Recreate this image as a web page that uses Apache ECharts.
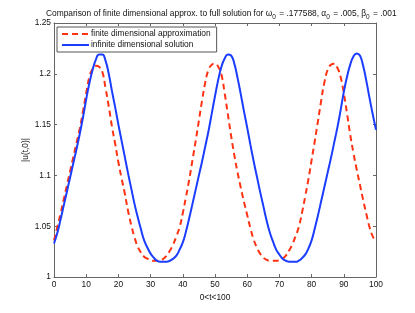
<!DOCTYPE html>
<html>
<head>
<meta charset="utf-8">
<script src="https://cdn.jsdelivr.net/npm/echarts@6/dist/echarts.min.js"></script>
<style>
html,body{margin:0;padding:0;background:#fff;}
#c{width:415px;height:313px;}
</style>
</head>
<body>
<div id="c"></div>
<script>
var tValues = [0,1,2,3,4,5,6,7,8,9,10,11,12,13,14,15,16,17,18,19,20,21,22,23,24,25,26,27,28,29,30,31,32,33,34,35,36,37,38,39,40,41,42,43,44,45,46,47,48,49,50,51,52,53,54,55,56,57,58,59,60,61,62,63,64,65,66,67,68,69,70,71,72,73,74,75,76,77,78,79,80,81,82,83,84,85,86,87,88,89,90,91,92,93,94,95,96,97,98,99,100];

var finiteApprox = [1.036,1.049,1.062,1.076,1.090,1.104,1.118,1.132,1.146,1.163,
1.181,1.197,1.205,1.208,1.207,1.202,1.186,1.168,1.148,1.131,
1.113,1.097,1.082,1.065,1.051,1.039,1.030,1.024,1.020,1.018,
1.0165,1.016,1.016,1.0165,1.018,1.021,1.026,1.032,1.040,1.049,
1.063,1.079,1.096,1.115,1.134,1.154,1.174,1.192,1.204,1.209,
1.210,1.207,1.199,1.181,1.160,1.139,1.120,1.103,1.088,1.074,
1.061,1.048,1.037,1.029,1.023,1.019,1.017,1.016,1.016,1.016,
1.0165,1.018,1.021,1.026,1.032,1.040,1.049,1.063,1.079,1.096,
1.115,1.134,1.154,1.174,1.192,1.204,1.209,1.210,1.206,1.197,
1.181,1.161,1.140,1.122,1.106,1.091,1.076,1.062,1.049,1.040,
1.035];

var infiniteSolution = [1.033,1.043,1.056,1.070,1.084,1.098,1.112,1.126,1.141,1.157,
1.175,1.191,1.204,1.214,1.219,1.219,1.213,1.200,1.183,1.167,
1.150,1.134,1.118,1.102,1.087,1.072,1.059,1.047,1.036,1.029,
1.023,1.019,1.016,1.015,1.015,1.015,1.016,1.018,1.021,1.027,
1.034,1.045,1.058,1.072,1.086,1.100,1.114,1.129,1.144,1.161,
1.178,1.194,1.207,1.215,1.219,1.218,1.210,1.196,1.180,1.163,
1.147,1.130,1.114,1.099,1.084,1.070,1.056,1.044,1.035,1.027,
1.022,1.018,1.016,1.015,1.015,1.015,1.016,1.0185,1.022,1.028,
1.036,1.048,1.061,1.075,1.089,1.103,1.117,1.132,1.147,1.164,
1.182,1.197,1.209,1.217,1.220,1.218,1.208,1.193,1.176,1.160,
1.145];

var seriesNames = ['finite dimensional approximation', 'infinite dimensional solution'];
var xTicks = {min: 0, max: 100, step: 10};
var yTicks = {min: 1, max: 1.25, step: 0.05};

function pairs(xs, ys) { return xs.map(function (x, i) { return [x, ys[i]]; }); }

var FONT = 'Liberation Sans, Arial, Helvetica, sans-serif';
var FS = 8.4;
var axisColor = '#666';
var chart = echarts.init(document.getElementById('c'), null, {renderer: 'canvas'});

function frameAxis(pos, ticks, showLabel, extra) {
  var a = {
    type: 'value', position: pos,
    min: ticks.min, max: ticks.max, interval: ticks.step,
    axisLine: {show: true, onZero: false, lineStyle: {color: axisColor, width: 1}},
    axisTick: {show: true, inside: true, length: 3, lineStyle: {color: axisColor}},
    axisLabel: {show: showLabel, color: '#111', fontSize: FS, fontFamily: FONT},
    splitLine: {show: false}
  };
  for (var k in extra) a[k] = extra[k];
  return a;
}

chart.setOption({
  animation: false,
  backgroundColor: '#fff',
  title: {
    text: 'Comparison of finite dimensional approx. to full solution for ω{s|0} = .177588, α{s|0} = .005, β{s|0} = .001',
    left: 41, top: 3,
    textStyle: {
      fontSize: FS, fontWeight: 'normal', color: '#111', fontFamily: FONT, lineHeight: 12,
      rich: {
        s: {fontSize: 6.5, fontFamily: FONT, color: '#111', padding: [7, 1, 0, 0]}
      }
    }
  },
  grid: {left: 54, right: 39, top: 23, bottom: 36, containLabel: false},
  legend: {
    orient: 'vertical', left: 57, top: 27,
    itemWidth: 27, itemHeight: 8, itemGap: 3,
    padding: [3, 6, 3, 4],
    borderColor: '#555', borderWidth: 1, backgroundColor: '#fff',
    itemStyle: {opacity: 0},
    textStyle: {fontSize: FS, color: '#111', fontFamily: FONT, padding: [0, 0, 0, -3]},
    data: seriesNames
  },
  xAxis: [
    frameAxis('bottom', xTicks, true, {
      name: '0<t<100', nameLocation: 'middle', nameGap: 17,
      nameTextStyle: {fontSize: FS, color: '#111', fontFamily: FONT},
      axisLabel: {show: true, color: '#111', fontSize: FS, fontFamily: FONT, margin: 4}
    }),
    frameAxis('top', xTicks, false, {})
  ],
  yAxis: [
    frameAxis('left', yTicks, true, {
      name: '|u(t,0)|', nameLocation: 'middle', nameGap: 24, nameRotate: 90,
      nameMoveOverlap: false,
      nameTextStyle: {fontSize: FS, color: '#111', fontFamily: FONT},
      axisLabel: {show: true, color: '#111', fontSize: FS, fontFamily: FONT, margin: 3}
    }),
    frameAxis('right', yTicks, false, {})
  ],
  series: [
    {
      name: seriesNames[0], type: 'line', xAxisIndex: 0, yAxisIndex: 0,
      data: pairs(tValues, finiteApprox), smooth: true, showSymbol: false, symbol: 'none',
      lineStyle: {color: '#ff3314', width: 2, type: [6, 4]},
      itemStyle: {color: '#ff3314'}, z: 2
    },
    {
      name: seriesNames[1], type: 'line', xAxisIndex: 0, yAxisIndex: 0,
      data: pairs(tValues, infiniteSolution), smooth: true, showSymbol: false, symbol: 'none',
      lineStyle: {color: '#1a3dff', width: 2},
      itemStyle: {color: '#1a3dff'}, z: 3
    }
  ]
});
</script>
</body>
</html>
